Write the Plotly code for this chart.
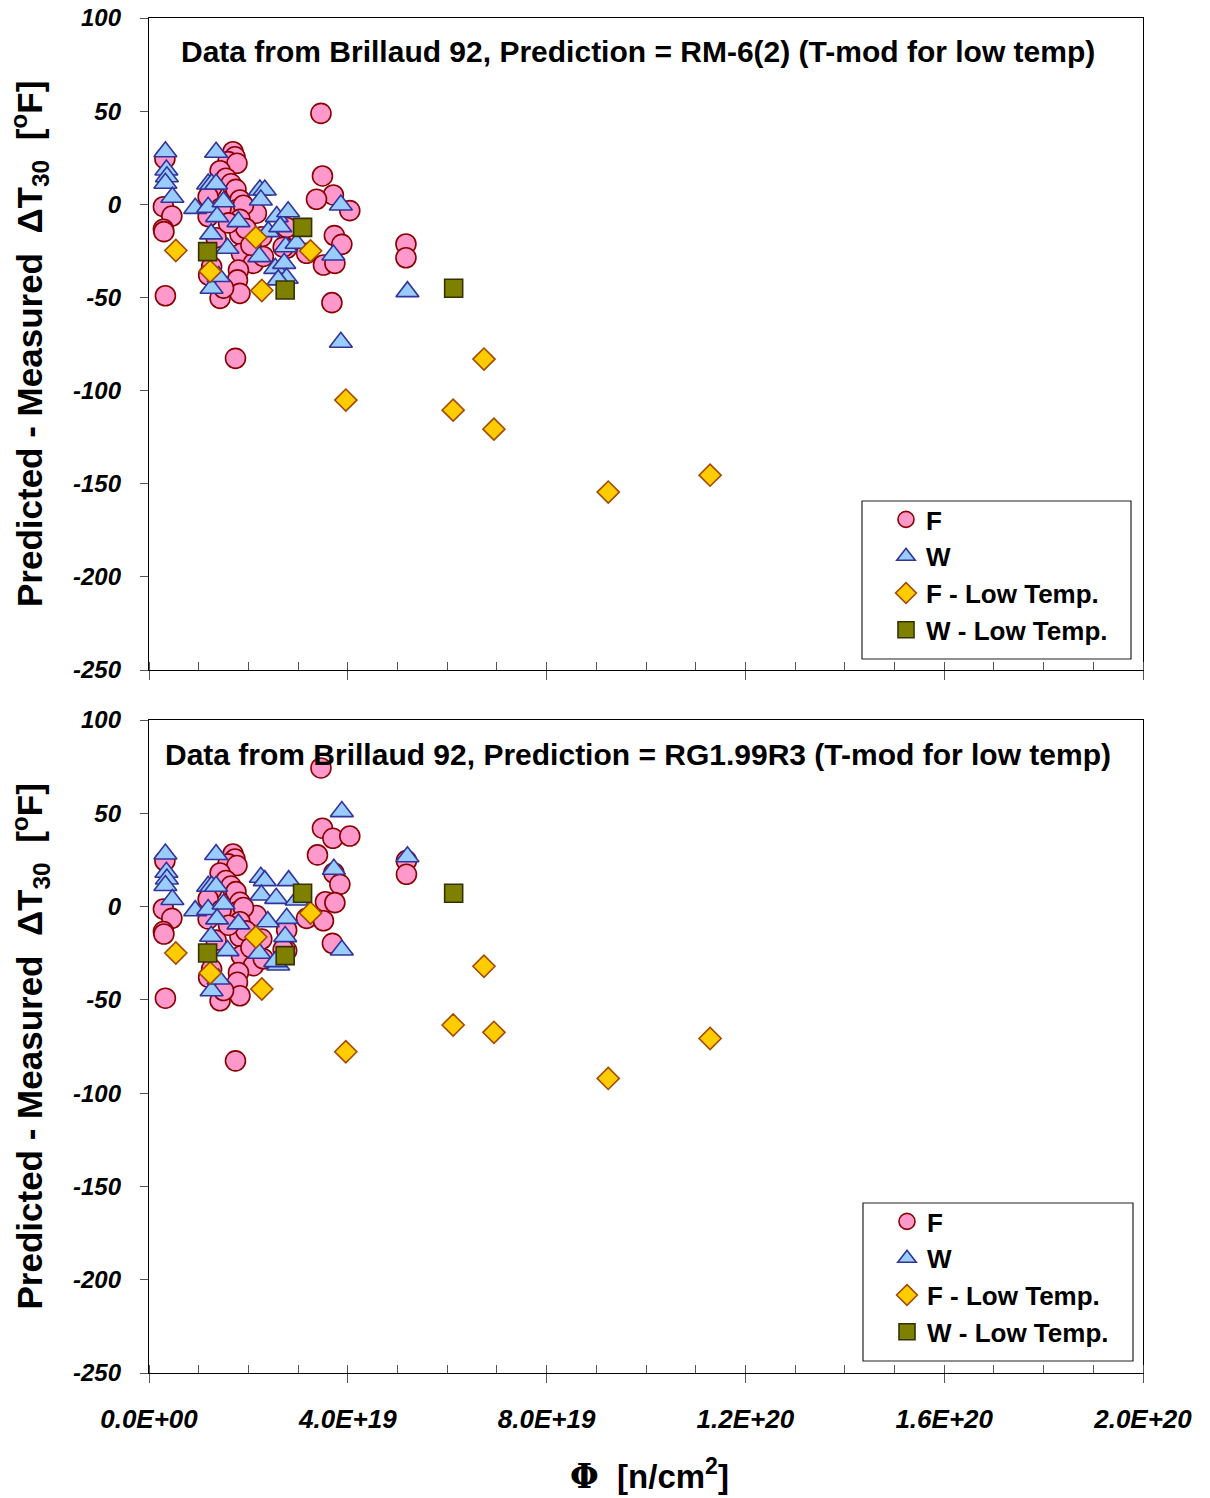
import numpy as np
import plotly.graph_objects as go

# ---------------- data ----------------
E18 = 1e18  # fluence values below are given in units of 1e18 n/cm^2

# F: low-fluence points (same residual under both predictions)
f_common_phi = [3.2, 2.9, 4.6, 2.9, 3.0, 3.3,
                16.9, 17.3, 15.9, 17.7, 14.3, 15.5, 16.5, 17.5, 12.6, 18.3,
                11.9, 11.9, 17.6, 21.6, 14.5, 19.0, 18.3, 18.3, 22.7, 18.6,
                21.0, 18.0, 17.8, 18.3, 14.3, 12.6, 27.7, 27.7, 17.4, 12.0,
                19.5, 23.0, 15.0, 13.5, 20.5, 16.0, 27.0]
f_common_dt = [24.5, -1.3, -6.3, -13.4, -14.7, -49.1,
               28.2, 25.5, 22.9, 22.0, 18.0, 14.0, 11.0, 8.0, 9.0, 2.3,
               4.1, -6.6, -3.0, -4.8, -2.0, -0.5, -8.1, -16.1, -17.4, -26.3,
               -31.7, -35.3, -40.6, -47.8, -50.5, -33.5, -23.6, -12.5, -82.7, -38.0,
               -13.0, -28.0, -45.0, -18.0, -22.0, -10.0, -23.0]

# F: higher-fluence points, RM-6(2)
f_rm_phi = [34.6, 34.9, 37.1, 33.7, 40.4, 37.3, 38.8, 31.7, 35.1, 37.4, 36.8, 51.7, 51.7]
f_rm_dt = [48.8, 15.2, 5.0, 2.7, -3.4, -16.8, -21.5, -26.3, -32.6, -31.7, -52.8, -21.3, -28.7]

# F: higher-fluence points, RG1.99R3
f_rg_phi = [34.6, 34.9, 37.0, 40.4, 33.9, 37.2, 38.4, 35.5, 37.4, 31.7, 35.1, 36.9, 51.8, 51.8]
f_rg_dt = [74.3, 42.0, 36.6, 37.8, 27.7, 18.0, 11.9, 2.6, 2.1, -6.3, -7.6, -19.7, 24.6, 17.3]

# W: low-fluence points (same in both)
w_common_phi = [3.3, 3.5, 3.6, 3.3, 4.7, 9.3, 11.9, 12.6, 13.5, 13.5, 11.9, 15.0,
                13.7, 12.5, 15.8, 12.6, 14.0, 18.0]
w_common_dt = [28.2, 18.4, 14.8, 11.3, 3.8, -2.2, 10.9, 10.9, 10.9, 27.9, -1.6, 1.4,
               -6.6, -15.9, -23.6, -45.1, -38.8, -9.3]

# W: RM-6(2)
w_rm_phi = [22.3, 23.3, 22.5, 25.7, 28.0, 24.0, 27.5, 29.7, 22.2, 25.4, 27.2, 27.7,
            26.0, 26.4, 38.6, 37.1, 38.6, 52.0]
w_rm_dt = [7.7, 7.7, 2.3, -6.6, -4.0, -14.7, -22.8, -20.9, -28.1, -34.4, -31.7, -39.7,
           -40.6, -12.0, -0.4, -27.2, -74.1, -46.9]

# W: RG1.99R3
w_rg_phi = [22.5, 23.3, 28.1, 22.6, 25.6, 27.7, 23.9, 27.4, 22.2, 26.0, 25.4, 29.7,
            38.8, 37.2, 38.8, 52.0]
w_rg_dt = [15.7, 13.9, 13.9, 6.2, 4.4, -6.3, -8.1, -16.1, -25.0, -31.3, -29.5, 3.5,
           50.9, 20.0, -23.3, 26.7]

# F - Low Temp.
flt_phi = [5.4, 12.3, 21.5, 22.7, 32.5, 39.6, 61.2, 67.4, 69.4, 92.4, 112.9]
flt_rm_dt = [-24.8, -36.0, -17.8, -46.3, -25.0, -105.1, -110.5, -83.1, -120.7, -154.5, -145.4]
flt_rg_dt = [-24.9, -35.6, -16.3, -44.2, -3.5, -77.8, -63.5, -32.0, -67.4, -92.1, -70.7]

# W - Low Temp.
wlt_phi = [11.8, 27.4, 30.9, 61.3]
wlt_rm_dt = [-25.4, -46.0, -12.4, -45.1]
wlt_rg_dt = [-24.9, -26.3, 7.1, 7.1]

x_tick_vals = [0, 4e19, 8e19, 1.2e20, 1.6e20, 2.0e20]
x_tick_text = ["0.0E+00", "4.0E+19", "8.0E+19", "1.2E+20", "1.6E+20", "2.0E+20"]
y_tick_vals = [100, 50, 0, -50, -100, -150, -200, -250]
y_tick_text = ["100", "50", "0", "-50", "-100", "-150", "-200", "-250"]

titles = ["Data from Brillaud 92, Prediction = RM-6(2) (T-mod for low temp)",
          "Data from Brillaud 92, Prediction = RG1.99R3 (T-mod for low temp)"]

# ---------------- layout geometry (pixels) ----------------
W, H = 1210, 1498
PLOT_L, PLOT_R = 149, 1143
PANELS = [(18, 670), (720, 1373)]          # (top, bottom) of each plot area
LEGEND_BOX = [(862, 501, 1131, 659), (863, 1203, 1133, 1361)]


def px_x(p):
    return p / W


def px_y(p):
    return 1 - p / H


FONT = "Liberation Sans, Arial, sans-serif"

styles = {
    "F": dict(symbol="circle", size=20, color="#FF99CC", line=dict(color="#8B0000", width=1.6)),
    "W": dict(symbol="triangle-up", size=20, color="#99CCFF", line=dict(color="#333399", width=1.6)),
    "F - Low Temp.": dict(symbol="diamond", size=17, color="#FFCC00", line=dict(color="#A34A00", width=1.6)),
    "W - Low Temp.": dict(symbol="square", size=18, color="#808000", line=dict(color="#333300", width=1.6)),
}

panel_series = [
    [
        ("F", f_common_phi + f_rm_phi, f_common_dt + f_rm_dt),
        ("W", w_common_phi + w_rm_phi, w_common_dt + w_rm_dt),
        ("F - Low Temp.", flt_phi, flt_rm_dt),
        ("W - Low Temp.", wlt_phi, wlt_rm_dt),
    ],
    [
        ("F", f_common_phi + f_rg_phi, f_common_dt + f_rg_dt),
        ("W", w_common_phi + w_rg_phi, w_common_dt + w_rg_dt),
        ("F - Low Temp.", flt_phi, flt_rg_dt),
        ("W - Low Temp.", wlt_phi, wlt_rg_dt),
    ],
]

fig = go.Figure()

for i, series in enumerate(panel_series):
    suffix = "" if i == 0 else "2"
    for name, phi, dt in series:
        fig.add_trace(go.Scatter(
            x=np.array(phi) * E18, y=dt, mode="markers", name=name,
            marker=styles[name],
            xaxis="x" + suffix, yaxis="y" + suffix,
            legend="legend" + suffix,
        ))

axis_line = dict(showline=True, linecolor="#000000", linewidth=1.3, mirror=True,
                 showgrid=False, zeroline=False, automargin=False)

layout = dict(
    width=W, height=H,
    margin=dict(l=0, r=0, t=0, b=0, pad=0, autoexpand=False),
    paper_bgcolor="white", plot_bgcolor="white",
    showlegend=True,
    annotations=[], shapes=[],
)

for i, (top, bot) in enumerate(PANELS):
    suffix = "" if i == 0 else "2"
    layout["xaxis" + suffix] = dict(
        **axis_line,
        domain=[px_x(PLOT_L), px_x(PLOT_R)],
        anchor="y" + suffix,
        range=[0, 2.0e20],
        tickmode="array", tickvals=x_tick_vals, ticktext=x_tick_text,
        ticks="outside", ticklen=9, tickwidth=1, tickcolor="#555555",
        showticklabels=(i == 1),
        tickfont=dict(family=FONT, size=26, color="black", weight="bold", style="italic"),
        ticklabelstandoff=14,
        minor=dict(ticks="inside", dtick=1e19, tick0=0, ticklen=8, tickwidth=1,
                   tickcolor="#555555", showgrid=False),
    )
    layout["yaxis" + suffix] = dict(
        **axis_line,
        domain=[px_y(bot), px_y(top)],
        anchor="x" + suffix,
        range=[-250, 100],
        tickmode="array", tickvals=y_tick_vals, ticktext=y_tick_text,
        ticks="outside", ticklen=8, tickwidth=1, tickcolor="#555555",
        tickfont=dict(family=FONT, size=24, color="black", weight="bold", style="italic"),
        ticklabelstandoff=14,
    )
    # panel caption
    layout["annotations"].append(dict(
        text="<b>" + titles[i] + "</b>", xref="paper", yref="paper",
        x=px_x(638), y=px_y(top + 34), xanchor="center", yanchor="middle",
        showarrow=False, font=dict(family=FONT, size=30, color="black"),
    ))
    # y-axis title
    layout["annotations"].append(dict(
        text="<b>Predicted - Measured\u00a0\u00a0ΔT<sub>30</sub>\u00a0\u00a0[<sup>o</sup>F]</b>",
        xref="paper", yref="paper", x=px_x(30), y=px_y((top + bot) / 2),
        xanchor="center", yanchor="middle", textangle=-90, showarrow=False,
        font=dict(family=FONT, size=35, color="black"),
    ))
    # legend frame
    lx0, ly0, lx1, ly1 = LEGEND_BOX[i]
    layout["shapes"].append(dict(
        type="rect", xref="paper", yref="paper",
        x0=px_x(lx0), x1=px_x(lx1), y0=px_y(ly1), y1=px_y(ly0),
        line=dict(color="#222222", width=1.2), fillcolor="white", layer="below",
    ))
    layout["legend" + suffix] = dict(
        x=px_x(lx0 + 24), y=px_y(ly0 - 5), xanchor="left", yanchor="top",
        bgcolor="rgba(0,0,0,0)", borderwidth=0,
        font=dict(family=FONT, size=26, color="black", weight="bold"),
        itemsizing="trace", tracegroupgap=0,
    )

# x-axis title
layout["annotations"].append(dict(
    text="<b><span style='font-family:DejaVu Serif'>Φ</span>\u00a0\u00a0[n/cm<sup>2</sup>]</b>",
    xref="paper", yref="paper", x=px_x(649), y=px_y(1474),
    xanchor="center", yanchor="middle", showarrow=False,
    font=dict(family=FONT, size=33, color="black"),
))

fig.update_layout(**layout)
fig.write_html("out.html")
